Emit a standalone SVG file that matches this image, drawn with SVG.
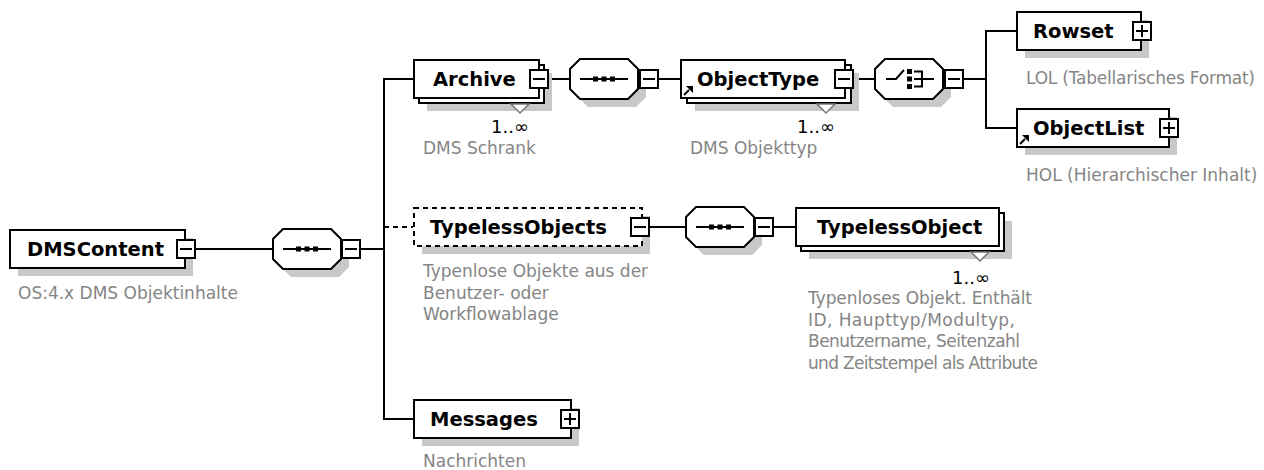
<svg xmlns="http://www.w3.org/2000/svg" xmlns:xlink="http://www.w3.org/1999/xlink" width="1264" height="470" viewBox="0 0 1264 470">
<style>
.box{fill:#fff;stroke:#000;stroke-width:2}
.dash{fill:#fff;stroke:#000;stroke-width:2;stroke-dasharray:5,4}
.sh{fill:#c8c8c8;stroke:none}
.ln{fill:none;stroke:#000;stroke-width:2}
.dl{fill:none;stroke:#000;stroke-width:2;stroke-dasharray:5,4}
.nm{font-family:"DejaVu Sans","Liberation Sans",sans-serif;font-weight:bold;font-size:19.5px;fill:#000}
.lb{font-family:"DejaVu Sans","Liberation Sans",sans-serif;font-size:17px;fill:#858585}
.oc{font-family:"DejaVu Sans","Liberation Sans",sans-serif;font-size:18px;fill:#000}
.tri{fill:#fff;stroke:#777;stroke-width:1.5}
</style>
<defs>
<path id="oct" d="M10,0 H58 L68,10 V30 L58,40 H10 L0,30 V10 Z" fill="#fff" stroke="#000" stroke-width="2"/>
<path id="octsh" d="M10,0 H58 L68,10 V30 L58,40 H10 L0,30 V10 Z" fill="#c8c8c8"/>
<g id="seqIcon">
<line x1="-24" y1="0" x2="24" y2="0" stroke="#000" stroke-width="2"/>
<rect x="-11" y="-2.5" width="5" height="5" fill="#000"/>
<rect x="-2.5" y="-2.5" width="5" height="5" fill="#000"/>
<rect x="6" y="-2.5" width="5" height="5" fill="#000"/>
</g>
<g id="minus">
<rect x="0" y="0" width="18" height="18" fill="#fff" stroke="#000" stroke-width="2"/>
<line x1="3" y1="9" x2="15" y2="9" stroke="#000" stroke-width="2"/>
</g>
<g id="plus">
<rect x="0" y="0" width="18" height="18" fill="#fff" stroke="#000" stroke-width="2"/>
<line x1="3" y1="9" x2="15" y2="9" stroke="#000" stroke-width="2"/>
<line x1="9" y1="3" x2="9" y2="15" stroke="#000" stroke-width="2"/>
</g>
<g id="refArrow">
<line x1="1" y1="10" x2="6" y2="5" stroke="#000" stroke-width="2"/>
<polygon points="3,1 10,1 10,8" fill="#000"/>
</g>
</defs>

<g id="connectors">
<line class="ln" x1="196" y1="249" x2="273" y2="249"/>
<line class="ln" x1="361" y1="249" x2="385" y2="249"/>
<polyline class="ln" points="413,79 384,79 384,419 413,419"/>
<line class="dl" x1="384" y1="227" x2="413" y2="227"/>
<line class="ln" x1="548" y1="79" x2="570" y2="79"/>
<line class="ln" x1="659" y1="79" x2="680" y2="79"/>
<line class="ln" x1="853" y1="79" x2="875" y2="79"/>
<line class="ln" x1="964" y1="79" x2="986" y2="79"/>
<polyline class="ln" points="1016,31 986,31 986,128 1016,128"/>
<line class="ln" x1="650" y1="227" x2="686" y2="227"/>
<line class="ln" x1="773" y1="227" x2="795" y2="227"/>
</g>

<g id="DMSContent">
<rect class="sh" x="18" y="238" width="175" height="38"/>
<rect class="box" x="10" y="230" width="175" height="38"/>
<text class="nm" x="27" y="256">DMSContent</text>
<use xlink:href="#minus" x="177" y="240"/>
<text class="lb" x="18" y="299">OS:4.x DMS Objektinhalte</text>
</g>

<g id="seq1">
<use xlink:href="#octsh" x="281" y="237"/>
<use xlink:href="#oct" x="273" y="229"/>
<use xlink:href="#seqIcon" x="307" y="249"/>
<use xlink:href="#minus" x="342" y="240"/>
</g>

<g id="Archive">
<rect class="sh" x="427" y="73" width="125" height="38"/>
<rect class="box" x="419" y="65" width="125" height="38"/>
<rect class="box" x="414" y="60" width="125" height="38"/>
<text class="nm" x="433" y="86">Archive</text>
<use xlink:href="#minus" x="530" y="70"/>
<polygon class="tri" points="511,104 529,104 520,113"/>
<text class="oc" x="529" y="133" text-anchor="end">1..∞</text>
<text class="lb" x="423" y="154">DMS Schrank</text>
</g>

<g id="seq2">
<use xlink:href="#octsh" x="578" y="67"/>
<use xlink:href="#oct" x="570" y="59"/>
<use xlink:href="#seqIcon" x="604" y="79"/>
<use xlink:href="#minus" x="640" y="70"/>
</g>

<g id="ObjectType">
<rect class="sh" x="695" y="73" width="164" height="38"/>
<rect class="box" x="687" y="65" width="164" height="38"/>
<rect class="box" x="681" y="60" width="164" height="38"/>
<text class="nm" x="697" y="86">ObjectType</text>
<use xlink:href="#refArrow" x="683" y="85"/>
<use xlink:href="#minus" x="835" y="70"/>
<polygon class="tri" points="817,104 835,104 826,113"/>
<text class="oc" x="835" y="133" text-anchor="end">1..∞</text>
<text class="lb" x="690" y="154">DMS Objekttyp</text>
</g>

<g id="choice">
<use xlink:href="#octsh" x="883" y="67"/>
<use xlink:href="#oct" x="875" y="59"/>
<polyline points="886,79 896,79 904,70" fill="none" stroke="#000" stroke-width="2"/>
<rect x="907" y="69" width="5" height="5" fill="#000"/>
<rect x="907" y="76.5" width="5" height="5" fill="#000"/>
<rect x="907" y="84" width="5" height="5" fill="#000"/>
<path d="M914,71.5 H922 V86.5 H914 M914,79 H934" fill="none" stroke="#000" stroke-width="2"/>
<use xlink:href="#minus" x="945" y="70"/>
</g>

<g id="Rowset">
<rect class="sh" x="1025" y="20" width="124" height="38"/>
<rect class="box" x="1017" y="12" width="124" height="38"/>
<text class="nm" x="1033" y="38">Rowset</text>
<use xlink:href="#plus" x="1133" y="22"/>
<text class="lb" x="1026" y="84" textLength="229" lengthAdjust="spacing">LOL (Tabellarisches Format)</text>
</g>

<g id="ObjectList">
<rect class="sh" x="1025" y="117" width="152" height="38"/>
<rect class="box" x="1017" y="109" width="152" height="38"/>
<text class="nm" x="1033" y="135">ObjectList</text>
<use xlink:href="#refArrow" x="1019" y="134"/>
<use xlink:href="#plus" x="1160" y="119"/>
<text class="lb" x="1026" y="181">HOL (Hierarchischer Inhalt)</text>
</g>

<g id="TypelessObjects">
<rect class="sh" x="422" y="216" width="228" height="38"/>
<rect class="dash" x="414" y="208" width="228" height="38"/>
<text class="nm" x="430" y="234">TypelessObjects</text>
<use xlink:href="#minus" x="631" y="218"/>
<text class="lb" x="423" y="277">Typenlose Objekte aus der</text>
<text class="lb" x="423" y="298.5">Benutzer- oder</text>
<text class="lb" x="423" y="320">Workflowablage</text>
</g>

<g id="seq3">
<use xlink:href="#octsh" x="694" y="215"/>
<use xlink:href="#oct" x="686" y="207"/>
<use xlink:href="#seqIcon" x="720" y="227"/>
<use xlink:href="#minus" x="755" y="218"/>
</g>

<g id="TypelessObject">
<rect class="sh" x="809" y="221" width="203" height="38"/>
<rect class="box" x="801" y="213" width="203" height="38"/>
<rect class="box" x="796" y="208" width="203" height="38"/>
<text class="nm" x="817" y="234">TypelessObject</text>
<polygon class="tri" points="971,252 989,252 980,261"/>
<text class="oc" x="990" y="284" text-anchor="end">1..∞</text>
<text class="lb" x="808" y="304" textLength="224" lengthAdjust="spacing">Typenloses Objekt. Enthält</text>
<text class="lb" x="808" y="325.5" textLength="207" lengthAdjust="spacing">ID, Haupttyp/Modultyp,</text>
<text class="lb" x="808" y="347" textLength="212" lengthAdjust="spacing">Benutzername, Seitenzahl</text>
<text class="lb" x="808" y="368.5" textLength="230" lengthAdjust="spacing">und Zeitstempel als Attribute</text>
</g>

<g id="Messages">
<rect class="sh" x="422" y="408" width="157" height="38"/>
<rect class="box" x="414" y="400" width="157" height="38"/>
<text class="nm" x="430" y="426">Messages</text>
<use xlink:href="#plus" x="561" y="410"/>
<text class="lb" x="423" y="467">Nachrichten</text>
</g>
</svg>
